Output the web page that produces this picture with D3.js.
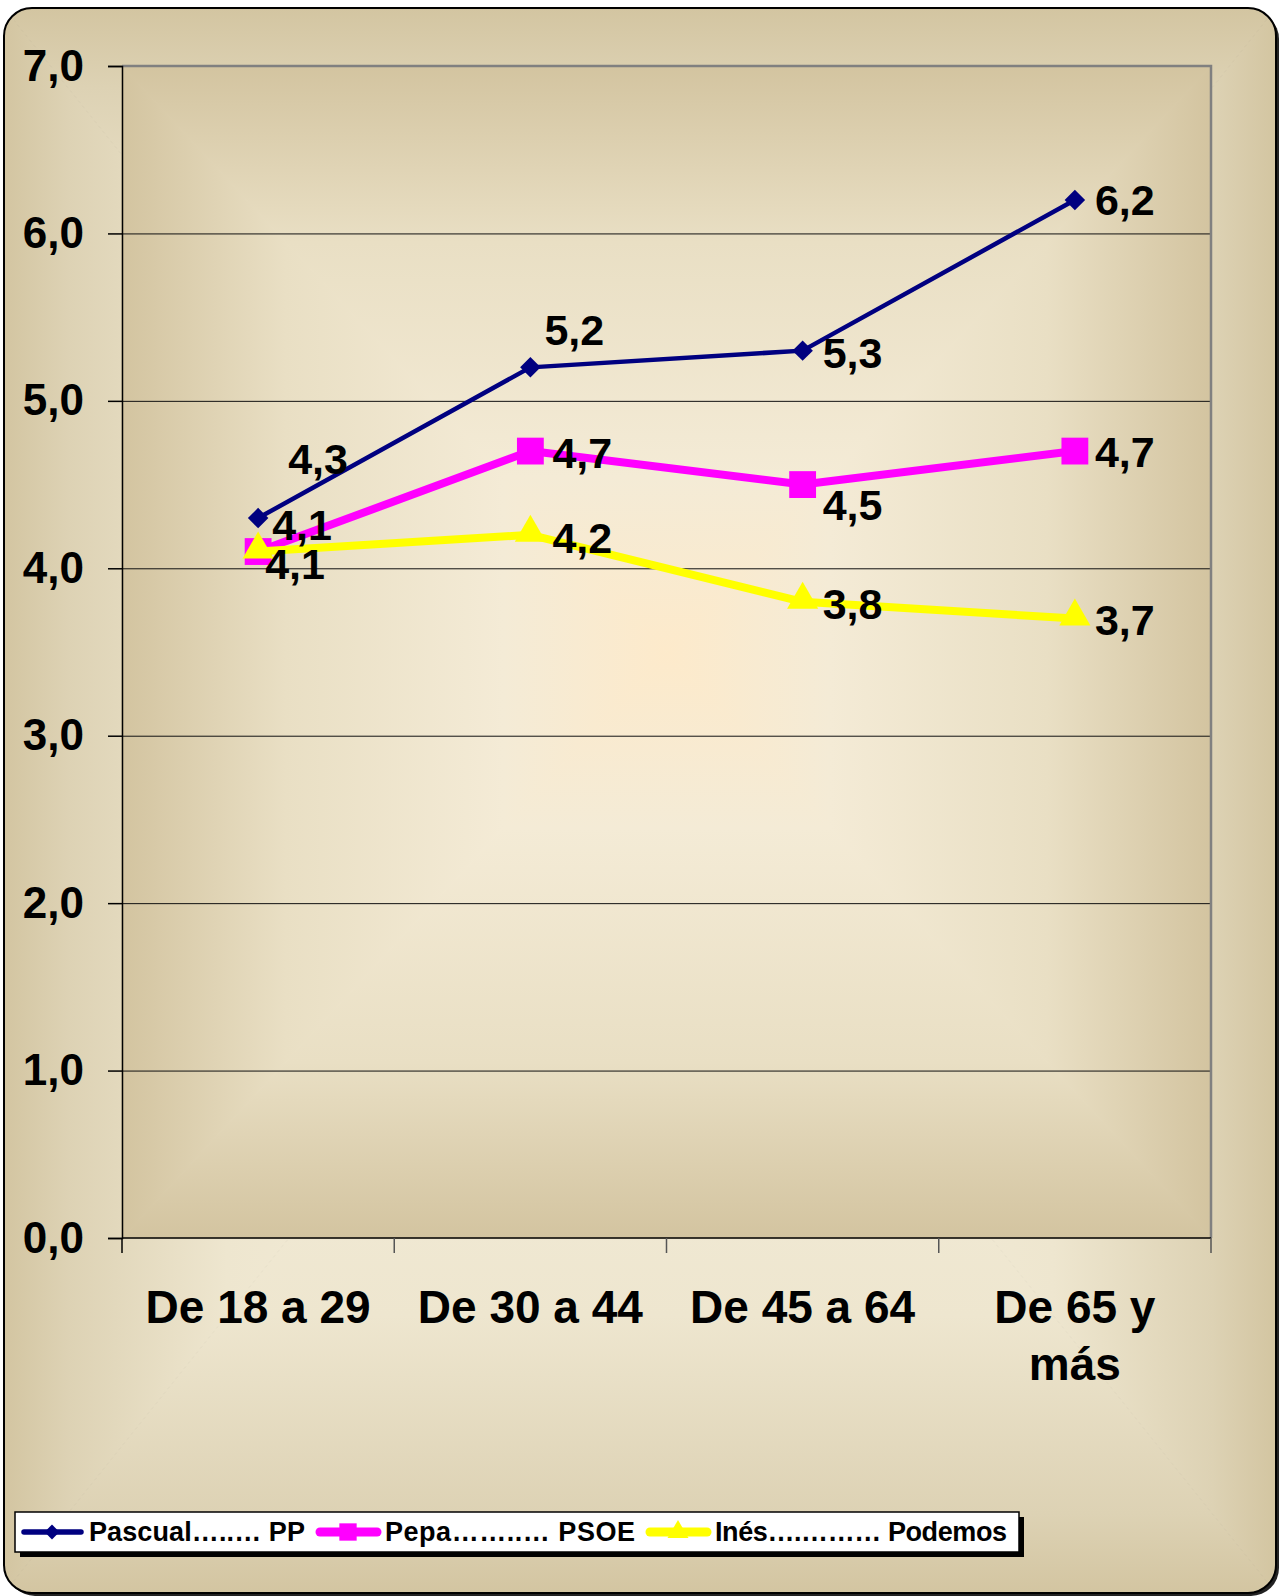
<!DOCTYPE html>
<html>
<head>
<meta charset="utf-8">
<script src="https://cdn.jsdelivr.net/npm/d3@7"></script>
<style>
  body { margin: 0; background: white; }
  text { font-family: Arial, "Liberation Sans", sans-serif; font-weight: bold; }
</style>
</head>
<body>
<script>
// data
let categories = ["De 18 a 29", "De 30 a 44", "De 45 a 64", "De 65 y más"];
let seriesNames = ["Pascual…..… PP", "Pepa……..… PSOE", "Inés….……… Podemos"];
let pp = [4.3, 5.2, 5.3, 6.2];
let psoe = [4.1, 4.7, 4.5, 4.7];
let podemos = [4.1, 4.2, 3.8, 3.7];
let yTicks = [0, 1, 2, 3, 4, 5, 6, 7];

// label nudges (pixels) so the numbers sit like in the original
let ppNudge = [[30, -59], [14, -37], [20, 2], [20, 0]];
let psoeNudge = [[14, -27], [22, 2], [20, 20], [20, 1]];
let podemosNudge = [[7, 12], [22, 3], [20, 2], [20, 1]];

let W = 1279, H = 1596;
let plotLeft = 122, plotRight = 1211, plotTop = 66, plotBottom = 1238;

let svg = d3.select("body")
  .append("svg")
    .attr("width", W)
    .attr("height", H);

let defs = svg.append("defs");

// rectangular "path" gradient: four triangles, each shaded edge -> centre
function pathGradient(g, id, x0, y0, x1, y1, stops) {
  let mx = (x0 + x1) / 2, my = (y0 + y1) / 2;
  let sides = [
    {pts: [[x0, y0], [x1, y0], [mx, my]], from: [mx, y0]},
    {pts: [[x0, y1], [x1, y1], [mx, my]], from: [mx, y1]},
    {pts: [[x0, y0], [x0, y1], [mx, my]], from: [x0, my]},
    {pts: [[x1, y0], [x1, y1], [mx, my]], from: [x1, my]}
  ];
  sides.forEach(function(s, i) {
    let lg = defs.append("linearGradient")
      .attr("id", id + i)
      .attr("gradientUnits", "userSpaceOnUse")
      .attr("x1", s.from[0]).attr("y1", s.from[1])
      .attr("x2", mx).attr("y2", my);
    stops.forEach(function(st) {
      lg.append("stop").attr("offset", st[0]).attr("stop-color", st[1]);
    });
    g.append("path")
      .attr("d", "M" + s.pts.join("L") + "Z")
      .attr("fill", "url(#" + id + i + ")")
      .attr("stroke", "url(#" + id + i + ")")
      .attr("stroke-width", 1);
  });
}

// chart area
defs.append("clipPath").attr("id", "outerClip")
  .append("rect")
    .attr("x", 4).attr("y", 8)
    .attr("width", 1272).attr("height", 1585)
    .attr("rx", 28);

svg.append("rect")
  .attr("x", 7).attr("y", 11)
  .attr("width", 1272).attr("height", 1585)
  .attr("rx", 28)
  .attr("fill", "#222");

let outer = svg.append("g").attr("clip-path", "url(#outerClip)");
pathGradient(outer, "og", 4, 8, 1276, 1593,
  [[0, "#d3c5a1"], [0.1, "#ddd2b4"], [0.35, "#eee6cf"], [1, "#f8f2e2"]]);

svg.append("rect")
  .attr("x", 4).attr("y", 8)
  .attr("width", 1272).attr("height", 1585)
  .attr("rx", 28)
  .attr("fill", "none")
  .attr("stroke", "black")
  .attr("stroke-width", 2);

// plot area
let plot = svg.append("g");
pathGradient(plot, "pg", plotLeft, plotTop, plotRight, plotBottom,
  [[0, "#d3c4a0"], [0.3, "#e9dfc4"], [0.7, "#f4ebd6"], [1, "#fdeacb"]]);

// scales
let x = d3.scaleBand().domain(categories).range([plotLeft, plotRight]).padding(0);
let y = d3.scaleLinear().domain([0, 7]).range([plotBottom, plotTop]);
let cx = function(d, i) { return x(categories[i]) + x.bandwidth() / 2; };
let fmt = function(v) { return d3.format(".1f")(v).replace(".", ","); };

// grid lines
svg.append("g")
  .attr("transform", "translate(" + plotLeft + ",0)")
  .call(d3.axisLeft(y).tickValues(yTicks.slice(1, 7)).tickSize(-(plotRight - plotLeft)).tickFormat(""))
  .call(function(g) { g.select(".domain").remove(); })
  .selectAll("line")
    .attr("stroke", "#111")
    .attr("stroke-width", 1);

// top and right border of the plot
svg.append("path")
  .attr("d", "M" + plotLeft + "," + plotTop + "H" + plotRight + "V" + plotBottom)
  .attr("fill", "none")
  .attr("stroke", "#808080")
  .attr("stroke-width", 2.5);

// y axis
let yAxis = svg.append("g")
  .attr("transform", "translate(" + plotLeft + ",0)")
  .call(d3.axisLeft(y).tickValues(yTicks).tickSize(14).tickPadding(24).tickFormat(fmt));
yAxis.select(".domain").attr("stroke", "black").attr("stroke-width", 1.5);
yAxis.selectAll("line").attr("stroke", "black").attr("stroke-width", 1.5);
yAxis.selectAll("text")
  .attr("font-size", 44)
  .attr("font-family", "Arial, 'Liberation Sans', sans-serif")
  .attr("font-weight", "bold")
  .attr("fill", "black");

// x axis with ticks between categories
let xAxis = svg.append("g");
xAxis.append("line")
  .attr("x1", plotLeft).attr("x2", plotRight)
  .attr("y1", plotBottom).attr("y2", plotBottom)
  .attr("stroke", "black").attr("stroke-width", 1.5);
let edges = categories.map(function(c) { return x(c); }).concat([plotRight]);
xAxis.selectAll(".tk")
  .data(edges)
  .enter().append("line")
    .attr("x1", function(d) { return d; })
    .attr("x2", function(d) { return d; })
    .attr("y1", plotBottom)
    .attr("y2", plotBottom + 15)
    .attr("stroke", function(d, i) { return i === 0 ? "black" : "#555"; })
    .attr("stroke-width", 1.5);

// category labels, wrapped when too wide
let catText = xAxis.selectAll(".cat")
  .data(categories)
  .enter().append("text")
    .attr("x", cx)
    .attr("y", 1323)
    .attr("text-anchor", "middle")
    .attr("font-size", 46);
catText.each(function(d) {
  let t = d3.select(this);
  let words = d.split(" ");
  let cur = [];
  let lines = [];
  let tsp = t.append("tspan");
  words.forEach(function(w) {
    cur.push(w);
    tsp.text(cur.join(" "));
    if (tsp.node().getComputedTextLength() > 250 && cur.length > 1) {
      cur.pop();
      lines.push(cur.join(" "));
      cur = [w];
    }
  });
  lines.push(cur.join(" "));
  tsp.remove();
  lines.forEach(function(l, k) {
    t.append("tspan")
      .attr("x", t.attr("x"))
      .attr("dy", k === 0 ? 0 : 57)
      .text(l);
  });
});

// series (diamond = square turned 45 degrees)
let series = [
  {values: pp, nudge: ppNudge, color: "#000080", width: 4.5, shape: d3.symbolSquare, size: 210, rot: 45},
  {values: psoe, nudge: psoeNudge, color: "#ff00ff", width: 8, shape: d3.symbolSquare, size: 720, rot: 0},
  {values: podemos, nudge: podemosNudge, color: "#ffff00", width: 8, shape: d3.symbolTriangle, size: 420, rot: 0}
];

let line = d3.line()
  .x(function(d, i) { return cx(d, i); })
  .y(function(d) { return y(d); });

series.forEach(function(s) {
  let g = svg.append("g");
  g.append("path")
    .datum(s.values)
    .attr("d", line)
    .attr("fill", "none")
    .attr("stroke", s.color)
    .attr("stroke-width", s.width)
    .attr("stroke-linejoin", "round");
  g.selectAll(".pt")
    .data(s.values)
    .enter().append("path")
      .attr("d", d3.symbol().type(s.shape).size(s.size))
      .attr("transform", function(d, i) {
        let dy = s.shape === d3.symbolTriangle ? -2 : 0;
        return "translate(" + cx(d, i) + "," + (y(d) + dy) + ") rotate(" + s.rot + ")";
      })
      .attr("fill", s.color);
});

// data labels on top of everything
series.forEach(function(s) {
  svg.append("g").selectAll("text")
    .data(s.values)
    .enter().append("text")
      .attr("x", function(d, i) { return cx(d, i) + s.nudge[i][0]; })
      .attr("y", function(d, i) { return y(d) + s.nudge[i][1]; })
      .attr("dominant-baseline", "central")
      .attr("font-size", 43)
      .attr("fill", "black")
      .text(fmt);
});

// legend
let legend = svg.append("g");
legend.append("rect")
  .attr("x", 20).attr("y", 1517)
  .attr("width", 1004).attr("height", 40)
  .attr("fill", "black");
legend.append("rect")
  .attr("x", 15).attr("y", 1512)
  .attr("width", 1004).attr("height", 40)
  .attr("fill", "white")
  .attr("stroke", "black")
  .attr("stroke-width", 1.5);

let legendX = [22, 318, 648];
let legendText = [[89, 216], [385, 250], [715, 292]];
let legendSize = [110, 300, 190];
series.forEach(function(s, i) {
  let ly = 1532;
  legend.append("line")
    .attr("x1", legendX[i] + 2).attr("x2", legendX[i] + 59)
    .attr("y1", ly).attr("y2", ly)
    .attr("stroke", s.color)
    .attr("stroke-width", s.width + 1)
    .attr("stroke-linecap", "round");
  legend.append("path")
    .attr("d", d3.symbol().type(s.shape).size(legendSize[i]))
    .attr("transform", "translate(" + (legendX[i] + 30) + "," + ly + ") rotate(" + s.rot + ")")
    .attr("fill", s.color);
  legend.append("text")
    .attr("x", legendText[i][0])
    .attr("y", ly)
    .attr("dominant-baseline", "central")
    .attr("font-size", 27)
    .attr("textLength", legendText[i][1])
    .attr("lengthAdjust", "spacing")
    .text(seriesNames[i]);
});
</script>
</body>
</html>
